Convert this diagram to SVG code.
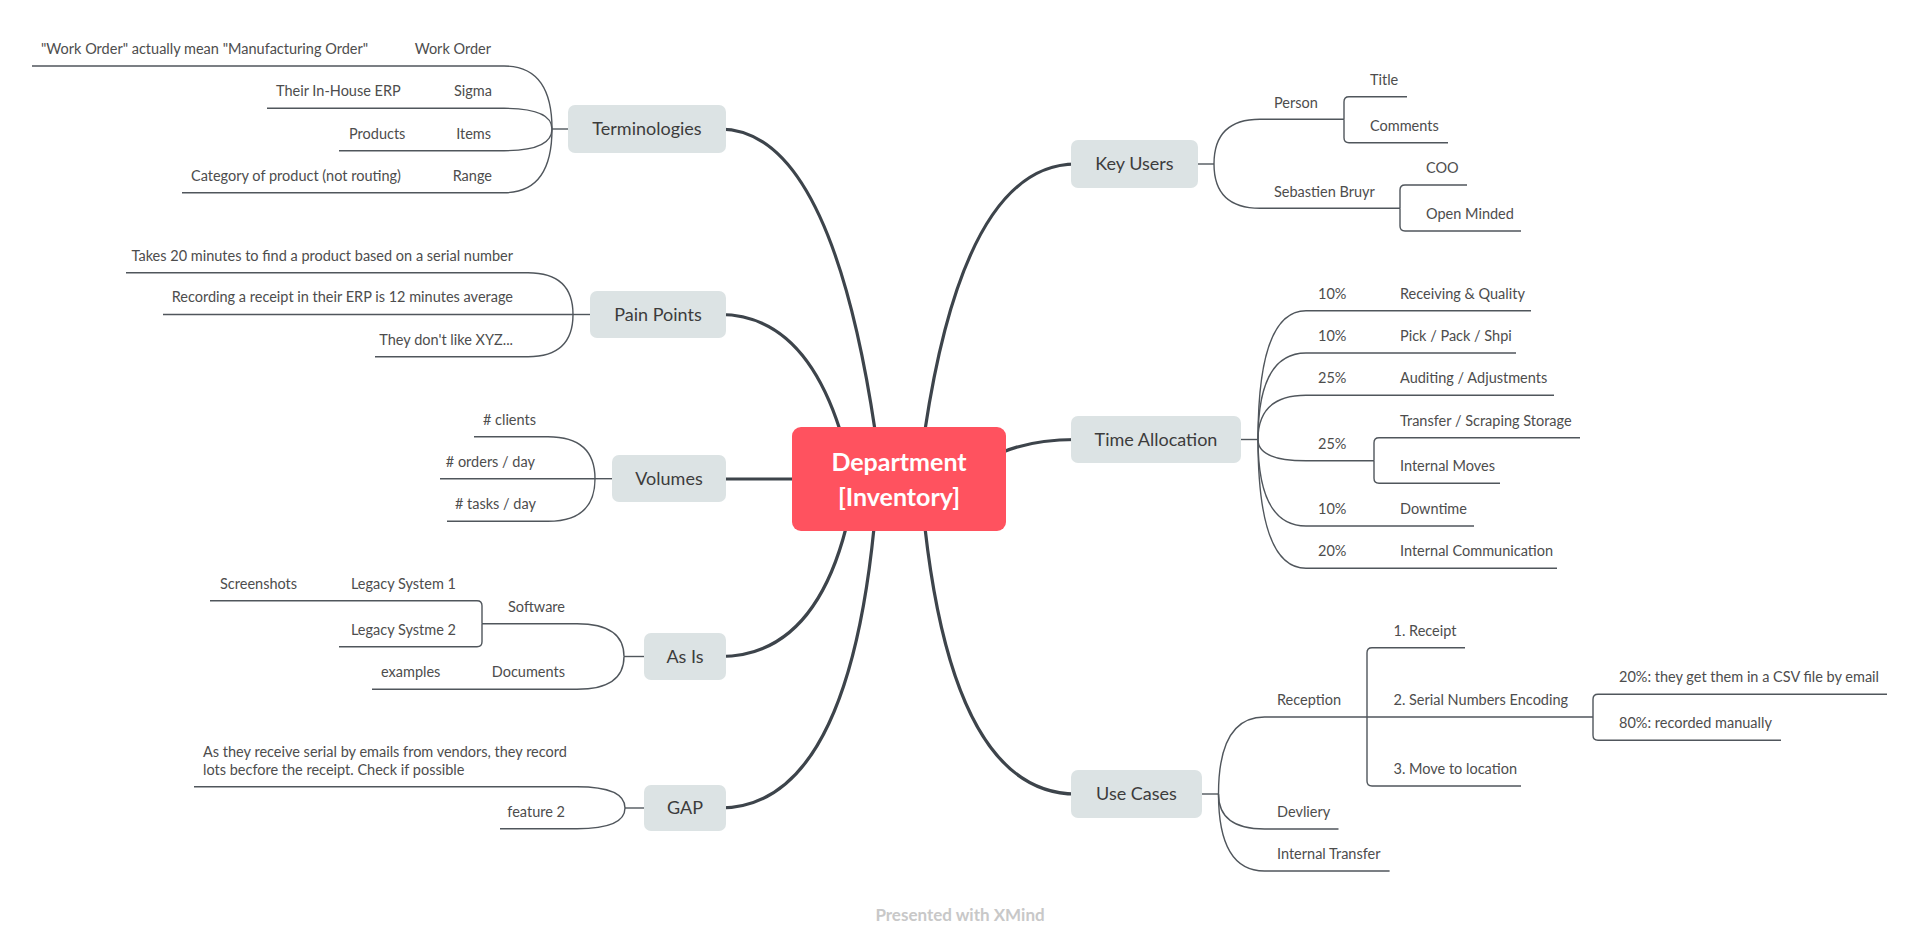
<svg xmlns="http://www.w3.org/2000/svg" width="1920" height="949" viewBox="0 0 1920 949">
<style>
.bg{fill:#ffffff}
.main{stroke:#3d444b;stroke-width:3.2;fill:none;stroke-linecap:round}
.sub{stroke:#50565c;stroke-width:1.4;fill:none}
.topic{fill:#dce3e4}
.tt{font-family:Lato,"Open Sans",sans-serif;font-size:18px;fill:#3c3c3c;text-anchor:middle}
.ct{font-family:Lato,"Open Sans",sans-serif;font-size:25px;font-weight:bold;fill:#ffffff;text-anchor:middle}
.t{font-family:Lato,"Open Sans",sans-serif;font-size:14.5px;fill:#4d4d4d}
.e{text-anchor:end}
.foot{font-family:Lato,"Open Sans",sans-serif;font-size:17px;font-weight:bold;fill:#c8c8c8;text-anchor:middle}
</style>
<rect class="bg" x="0" y="0" width="1920" height="949"/>
<g id="connectors">
  <path class="main" d="M875,430 Q830,129 720,129"/>
  <path class="main" d="M840,430 Q803,314.5 720,314.5"/>
  <path class="main" d="M795,479 H720"/>
  <path class="main" d="M846,528 Q813,656.5 720,656.5"/>
  <path class="main" d="M874,528 Q846,808 720,808"/>
  <path class="main" d="M925,430 Q965,164 1076,164"/>
  <path class="main" d="M1003,452 Q1033,439.5 1076,439.5"/>
  <path class="main" d="M925,528 Q955,794 1076,794"/>
  <!-- Terminologies -->
  <path class="sub" d="M568,129 H552"/>
  <path class="sub" d="M552,129 Q552,66 504,66 H32"/>
  <path class="sub" d="M552,129 Q552,108.3 504,108.3 H267"/>
  <path class="sub" d="M552,129 Q552,150.7 504,150.7 H339"/>
  <path class="sub" d="M552,129 Q552,192.7 504,192.7 H182"/>
  <!-- Pain Points -->
  <path class="sub" d="M590,314.5 H573"/>
  <path class="sub" d="M573,314.5 Q573,272.7 528,272.7 H126"/>
  <path class="sub" d="M573,314.5 H163"/>
  <path class="sub" d="M573,314.5 Q573,356.7 528,356.7 H375"/>
  <!-- Volumes -->
  <path class="sub" d="M612,478.7 H595"/>
  <path class="sub" d="M595,478.7 Q595,436.7 548,436.7 H474"/>
  <path class="sub" d="M595,478.7 H440"/>
  <path class="sub" d="M595,478.7 Q595,521.3 548,521.3 H447"/>
  <!-- As Is -->
  <path class="sub" d="M644,656.5 H624"/>
  <path class="sub" d="M624,656.5 Q624,623.7 577,623.7 H482"/>
  <path class="sub" d="M482,623.7 V605.7 Q482,600.7 477,600.7 H210"/>
  <path class="sub" d="M482,623.7 V641.7 Q482,646.7 477,646.7 H339"/>
  <path class="sub" d="M624,656.5 Q624,689.3 577,689.3 H372"/>
  <!-- GAP -->
  <path class="sub" d="M644,808 H625"/>
  <path class="sub" d="M625,808 Q625,786.7 577,786.7 H194"/>
  <path class="sub" d="M625,808 Q625,828.7 577,828.7 H500"/>
  <!-- Key Users -->
  <path class="sub" d="M1198,164 H1214"/>
  <path class="sub" d="M1214,164 Q1214,119.3 1260,119.3 H1344"/>
  <path class="sub" d="M1344,119.3 V101.7 Q1344,96.7 1349,96.7 H1407"/>
  <path class="sub" d="M1344,119.3 V137.7 Q1344,142.7 1349,142.7 H1448"/>
  <path class="sub" d="M1214,164 Q1214,208.3 1260,208.3 H1400"/>
  <path class="sub" d="M1400,208.3 V190 Q1400,185 1405,185 H1467"/>
  <path class="sub" d="M1400,208.3 V226 Q1400,231 1405,231 H1521"/>
  <!-- Time Allocation -->
  <path class="sub" d="M1241,439.5 H1258"/>
  <path class="sub" d="M1258,439.5 Q1258,310.7 1306,310.7 H1531"/>
  <path class="sub" d="M1258,439.5 Q1258,353 1306,353 H1516"/>
  <path class="sub" d="M1258,439.5 Q1258,395.3 1306,395.3 H1554"/>
  <path class="sub" d="M1258,439.5 Q1258,460.7 1306,460.7 H1374"/>
  <path class="sub" d="M1374,460.7 V442.7 Q1374,437.7 1379,437.7 H1580"/>
  <path class="sub" d="M1374,460.7 V478.3 Q1374,483.3 1379,483.3 H1500"/>
  <path class="sub" d="M1258,439.5 Q1258,526 1306,526 H1474"/>
  <path class="sub" d="M1258,439.5 Q1258,568.3 1306,568.3 H1557"/>
  <!-- Use Cases -->
  <path class="sub" d="M1202,794 H1218.5"/>
  <path class="sub" d="M1218.5,794 Q1218.5,717 1264.5,717 H1593"/>
  <path class="sub" d="M1367,717 V652.7 Q1367,647.7 1372,647.7 H1465"/>
  <path class="sub" d="M1367,717 V781 Q1367,786 1372,786 H1521"/>
  <path class="sub" d="M1593,717 V699.3 Q1593,694.3 1598,694.3 H1887"/>
  <path class="sub" d="M1593,717 V735.3 Q1593,740.3 1598,740.3 H1781"/>
  <path class="sub" d="M1218.5,794 Q1218.5,829 1264.5,829 H1338.5"/>
  <path class="sub" d="M1218.5,794 Q1218.5,871 1264.5,871 H1389.6"/>
</g>
<g id="center">
  <rect x="792" y="427" width="214" height="104" rx="9" fill="#ff525f"/>
  <text class="ct" x="899" y="471">Department</text>
  <text class="ct" x="899" y="506">[Inventory]</text>
</g>
<g id="terminologies">
  <rect class="topic" x="568" y="105" width="158" height="48" rx="7"/>
  <text class="tt" x="647" y="135">Terminologies</text>
  <text class="t e" x="491" y="54">Work Order</text>
  <text class="t" x="41" y="54">"Work Order" actually mean "Manufacturing Order"</text>
  <text class="t e" x="492" y="96">Sigma</text>
  <text class="t" x="276" y="96">Their In-House ERP</text>
  <text class="t e" x="491" y="139">Items</text>
  <text class="t" x="349" y="139">Products</text>
  <text class="t e" x="492" y="181">Range</text>
  <text class="t" x="191" y="181">Category of product (not routing)</text>
</g>
<g id="pain-points">
  <rect class="topic" x="590" y="291" width="136" height="47" rx="7"/>
  <text class="tt" x="658" y="320.5">Pain Points</text>
  <text class="t e" x="513" y="261">Takes 20 minutes to find a product based on a serial number</text>
  <text class="t e" x="513" y="302">Recording a receipt in their ERP is 12 minutes average</text>
  <text class="t e" x="513" y="345">They don't like XYZ...</text>
</g>
<g id="volumes">
  <rect class="topic" x="612" y="455" width="114" height="47" rx="7"/>
  <text class="tt" x="669" y="484.5">Volumes</text>
  <text class="t e" x="536" y="425">&#35; clients</text>
  <text class="t e" x="535" y="467">&#35; orders / day</text>
  <text class="t e" x="536" y="509">&#35; tasks / day</text>
</g>
<g id="as-is">
  <rect class="topic" x="644" y="633" width="82" height="47" rx="7"/>
  <text class="tt" x="685" y="662.5">As Is</text>
  <text class="t e" x="565" y="612">Software</text>
  <text class="t e" x="456" y="589">Legacy System 1</text>
  <text class="t" x="220" y="589">Screenshots</text>
  <text class="t e" x="456" y="635">Legacy Systme 2</text>
  <text class="t e" x="565" y="677">Documents</text>
  <text class="t" x="381" y="677">examples</text>
</g>
<g id="gap">
  <rect class="topic" x="644" y="785" width="82" height="46" rx="7"/>
  <text class="tt" x="685" y="814">GAP</text>
  <text class="t" x="203" y="757">As they receive serial by emails from vendors, they record</text>
  <text class="t" x="203" y="774.5">lots becfore the receipt. Check if possible</text>
  <text class="t e" x="565" y="817">feature 2</text>
</g>
<g id="key-users">
  <rect class="topic" x="1071" y="140" width="127" height="48" rx="7"/>
  <text class="tt" x="1134.5" y="170">Key Users</text>
  <text class="t" x="1274" y="108">Person</text>
  <text class="t" x="1370" y="85">Title</text>
  <text class="t" x="1370" y="131">Comments</text>
  <text class="t" x="1274" y="197">Sebastien Bruyr</text>
  <text class="t" x="1426" y="173">COO</text>
  <text class="t" x="1426" y="219">Open Minded</text>
</g>
<g id="time-allocation">
  <rect class="topic" x="1071" y="416" width="170" height="47" rx="7"/>
  <text class="tt" x="1156" y="445.5">Time Allocation</text>
  <text class="t" x="1318" y="299">10%</text>
  <text class="t" x="1400" y="299">Receiving &amp; Quality</text>
  <text class="t" x="1318" y="341">10%</text>
  <text class="t" x="1400" y="341">Pick / Pack / Shpi</text>
  <text class="t" x="1318" y="383">25%</text>
  <text class="t" x="1400" y="383">Auditing / Adjustments</text>
  <text class="t" x="1318" y="449">25%</text>
  <text class="t" x="1400" y="426">Transfer / Scraping Storage</text>
  <text class="t" x="1400" y="471">Internal Moves</text>
  <text class="t" x="1318" y="514">10%</text>
  <text class="t" x="1400" y="514">Downtime</text>
  <text class="t" x="1318" y="556">20%</text>
  <text class="t" x="1400" y="556">Internal Communication</text>
</g>
<g id="use-cases">
  <rect class="topic" x="1071" y="770" width="131" height="48" rx="7"/>
  <text class="tt" x="1136.5" y="800">Use Cases</text>
  <text class="t" x="1277" y="705">Reception</text>
  <text class="t" x="1393.5" y="636">1. Receipt</text>
  <text class="t" x="1393.5" y="705">2. Serial Numbers Encoding</text>
  <text class="t" x="1619" y="682">20%: they get them in a CSV file by email</text>
  <text class="t" x="1619" y="728">80%: recorded manually</text>
  <text class="t" x="1393.5" y="774">3. Move to location</text>
  <text class="t" x="1277" y="817">Devliery</text>
  <text class="t" x="1277" y="859">Internal Transfer</text>
</g>
<g id="footer">
  <text class="foot" x="960" y="921">Presented with XMind</text>
</g>
</svg>
